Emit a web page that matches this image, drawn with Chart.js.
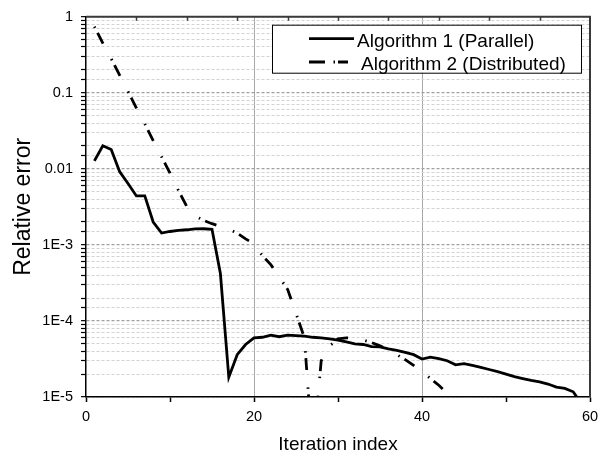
<!DOCTYPE html>
<html><head><meta charset="utf-8">
<script src="https://cdn.jsdelivr.net/npm/chart.js@4.4.1/dist/chart.umd.min.js"></script>
<style>html,body{margin:0;padding:0;background:#fff;}canvas{display:block;}</style>
</head><body>
<canvas id="c" width="613" height="460"></canvas>
<script>
// ---------- data ----------
const seriesNames = ['Algorithm 1 (Parallel)', 'Algorithm 2 (Distributed)'];
const iterationsA1 = [1,2,3,4,5,6,7,8,9,10,11,12,13,14,15,16,17,18,19,20,21,22,23,24,25,26,27,28,29,30,
  31,32,33,34,35,36,37,38,39,40,41,42,43,44,45,46,47,48,49,50,51,52,53,54,55,56,57,58,59,60];
const errorA1 = [0.0127,0.0201,0.0179,0.0092,0.0064,0.0044,0.0044,0.0020,0.00143,0.00150,
  0.00155,0.00158,0.00162,0.00163,0.00160,0.00042,1.82e-5,3.6e-5,4.9e-5,6.0e-5,
  6.1e-5,6.5e-5,6.2e-5,6.5e-5,6.4e-5,6.3e-5,6.1e-5,6.0e-5,5.8e-5,5.6e-5,
  5.3e-5,5.0e-5,4.9e-5,4.6e-5,4.55e-5,4.3e-5,4.1e-5,3.85e-5,3.6e-5,3.15e-5,
  3.35e-5,3.2e-5,3.0e-5,2.65e-5,2.75e-5,2.6e-5,2.45e-5,2.3e-5,2.15e-5,2.0e-5,
  1.85e-5,1.75e-5,1.65e-5,1.58e-5,1.48e-5,1.35e-5,1.3e-5,1.17e-5,8.1e-6,1.0e-5];
const iterationsA2 = [1,2,3,4,5,6,7,8,9,10,11,12,13,14,15,16,17,18,19,20,21,22,23,24,25,26,27,28,29,30,
  31,32,33,34,35,36,37,38,39,40,41,42,43,44,45];
const errorA2 = [0.74,0.45,0.28,0.17,0.104,0.063,0.039,0.0235,0.0144,0.0088,
  0.0052,0.0032,0.0024,0.0021,0.0019,0.00175,0.0016,0.00143,0.0012,0.00103,
  0.00072,0.00055,0.00038,0.00026,0.000126,6.0e-5,1.7e-6,3.0e-5,4.7e-5,5.8e-5,
  6.0e-5,5.9e-5,5.6e-5,5.2e-5,4.7e-5,4.2e-5,3.6e-5,3.1e-5,2.6e-5,2.15e-5,
  1.75e-5,1.43e-5,1.12e-5,9.0e-6,7.0e-6];
const xTickValues = [0,20,40,60];
const xTickLabels = ['0','20','40','60'];
const yTickValues = [1,0.1,0.01,1e-3,1e-4,1e-5];
const yTickLabels = ['1','0.1','0.01','1E-3','1E-4','1E-5'];
const xTitle = 'Iteration index';
const yTitle = 'Relative error';

// ---------- helpers ----------
const FONT = '"Liberation Sans", Arial, Helvetica, sans-serif';
const isDecade = v => { const l = Math.log10(v); return Math.abs(l - Math.round(l)) < 1e-6; };
const toXY = (xs, ys) => xs.map((x, i) => ({x: x, y: ys[i]}));

const legendPlugin = {
  id: 'boxLegend',
  afterDraw(chart) {
    const {ctx, chartArea: a} = chart;
    const bx = a.left + 186, by = a.top + 8, bw = 309, bh = 48;
    ctx.save();
    ctx.fillStyle = '#fff';
    ctx.fillRect(bx, by, bw, bh);
    ctx.strokeStyle = '#000';
    ctx.lineWidth = 1;
    ctx.strokeRect(bx + 0.5, by + 0.5, bw, bh);
    const rows = [
      {y: a.top + 22, x0: a.left + 223, x1: a.left + 268, tx: a.left + 271, dash: []},
      {y: a.top + 45.3, x0: a.left + 223, x1: a.left + 262, tx: a.left + 275, dash: [16, 8.5, 1.5, 3]}
    ];
    ctx.font = '19px ' + FONT;
    ctx.textBaseline = 'alphabetic';
    ctx.textAlign = 'left';
    rows.forEach((r, i) => {
      const ds = chart.data.datasets[i];
      ctx.beginPath();
      ctx.setLineDash(r.dash);
      ctx.lineWidth = ds.borderWidth;
      ctx.strokeStyle = ds.borderColor;
      ctx.moveTo(r.x0, r.y); ctx.lineTo(r.x1, r.y);
      ctx.stroke();
      ctx.setLineDash([]);
      ctx.fillStyle = '#000';
      ctx.fillText(ds.label, r.tx, r.y + 8);
    });
    ctx.restore();
  }
};

const framePlugin = {
  id: 'frame',
  afterDatasetsDraw(chart) {
    const {ctx, chartArea: a, scales} = chart;
    ctx.save();
    ctx.strokeStyle = '#3a3a3a';
    ctx.lineWidth = 2;
    ctx.beginPath();
    ctx.moveTo(a.left, a.top); ctx.lineTo(a.right, a.top); ctx.lineTo(a.right, a.bottom);
    ctx.stroke();
    ctx.lineWidth = 1.5;
    ctx.beginPath();
    for (let v = 6; v < 60; v += 6) {
      const px = Math.round(scales.x.getPixelForValue(v)) + 0.5;
      ctx.moveTo(px, a.top); ctx.lineTo(px, a.top + 4);
    }
    ctx.stroke();
    ctx.restore();
  }
};

new Chart(document.getElementById('c'), {
  type: 'line',
  data: {
    datasets: [
      {
        label: seriesNames[0],
        data: toXY(iterationsA1, errorA1),
        borderColor: '#000',
        borderWidth: 2.8,
        pointRadius: 0,
        tension: 0,
        fill: false
      },
      {
        label: seriesNames[1],
        data: toXY(iterationsA2, errorA2),
        borderColor: '#000',
        borderWidth: 2.8,
        borderDash: [12, 17.5, 1.5, 5.5],
        borderDashOffset: 29.5,
        pointRadius: 0,
        tension: 0,
        fill: false
      }
    ]
  },
  options: {
    responsive: false,
    animation: false,
    devicePixelRatio: 1,
    layout: {padding: {top: 7, right: 23, left: 0, bottom: 0}},
    plugins: {legend: {display: false}, tooltip: {enabled: false}, title: {display: false}},
    scales: {
      x: {
        type: 'linear',
        min: 0, max: 60,
        afterFit: s => { s.height = 63; },
        ticks: {
          stepSize: 10,
          autoSkip: false,
          maxRotation: 0,
          padding: 6,
          color: '#000',
          font: {family: FONT, size: 14.5},
          callback: v => { const i = xTickValues.indexOf(v); return i >= 0 ? xTickLabels[i] : ''; }
        },
        grid: {
          color: c => (c.tick && c.tick.value % 20 === 0 && c.tick.value > 0 && c.tick.value < 60) ? '#a8a8a8' : 'rgba(0,0,0,0)',
          lineWidth: 1,
          tickColor: '#000',
          tickLength: 5,
          tickWidth: 1.5
        },
        border: {display: true, color: '#000', width: 1.5},
        title: {display: true, text: xTitle, color: '#000', font: {family: FONT, size: 19}, padding: {top: 0, bottom: 4}}
      },
      y: {
        type: 'logarithmic',
        min: 1e-5, max: 1,
        afterFit: s => { s.width = 86; },
        ticks: {
          autoSkip: false,
          padding: 8,
          color: '#000',
          font: {family: FONT, size: 14.5},
          callback: v => {
            if (!isDecade(v)) return '';
            const l = Math.round(Math.log10(v));
            const i = yTickValues.findIndex(t => Math.round(Math.log10(t)) === l);
            return i >= 0 ? yTickLabels[i] : '';
          }
        },
        grid: {
          color: c => (c.tick && isDecade(c.tick.value)) ? '#a0a0a0' : '#d2d2d2',
          lineWidth: c => (c.tick && isDecade(c.tick.value)) ? 1.3 : 1,
          tickColor: '#000',
          tickLength: 5,
          tickWidth: 1.2
        },
        border: {display: true, color: '#000', width: 1.5, dash: [3, 2]},
        title: {display: true, text: yTitle, color: '#000', font: {family: FONT, size: 23}, padding: {top: 10, bottom: 0}}
      }
    }
  },
  plugins: [framePlugin, legendPlugin]
});
</script>
</body></html>
